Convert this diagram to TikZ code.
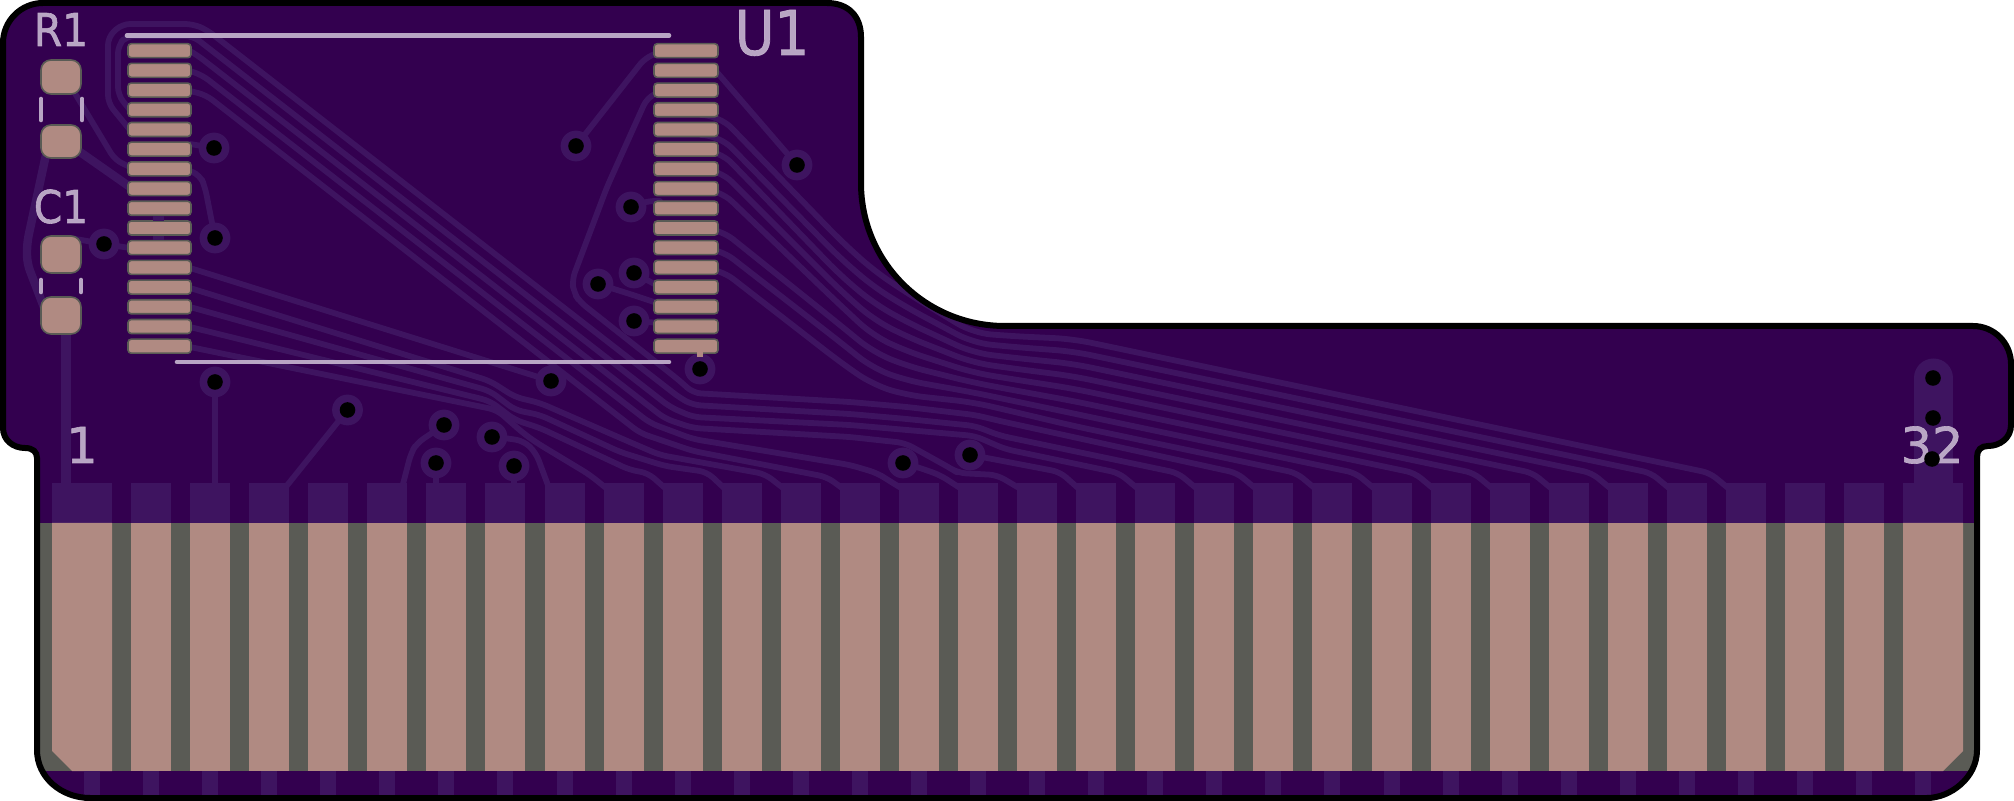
\documentclass[tikz,border=0pt]{standalone}
\usepackage{fontspec}
\setmainfont{DejaVu Sans}
\newfontfamily\silkfont[FakeBold=1.3]{DejaVu Sans}
\definecolor{mask}{HTML}{33004F}
\definecolor{tint}{HTML}{3E1460}
\definecolor{gold}{HTML}{B08A82}
\definecolor{sub}{HTML}{5A5B55}
\definecolor{silk}{HTML}{C3B2CD}
\tikzset{
  tr/.style={draw=tint,line width=2.9pt,line join=round,line cap=round,rounded corners=4pt},
  trthick/.style={tr,line width=4.2pt},
  smdpad/.style={draw=sub,line width=.8pt,fill=gold,rounded corners=1.6pt},
  sqpad/.style={draw=sub,line width=.8pt,fill=gold,rounded corners=5pt},
  silkline/.style={draw=silk,line width=2.3pt,line cap=round,opacity=.93},
  silktext/.style={text=silk,inner sep=0pt,anchor=base,opacity=.93,font=\silkfont},
  annulus/.style={fill=tint},
  hole/.style={fill=black}
}
\newcommand{\boardpath}{(43,3) -- (827,3) .. controls (848,3) and (861,16) .. (861,37)
  -- (861,183) .. controls (861,262.5) and (925.5,326) .. (1005,326)
  -- (1973,326) .. controls (1994,326) and (2011,343) .. (2011,364)
  -- (2011,425) .. controls (2011,438) and (2000,446) .. (1988,446)
  .. controls (1981,446) and (1977,450) .. (1977,457)
  -- (1977,750) .. controls (1977,778) and (1950,798) .. (1927,798)
  -- (90,798) .. controls (62,798) and (37,778) .. (37,750)
  -- (37,458) .. controls (37,452) and (33,448) .. (25,448)
  .. controls (13,448) and (3,440) .. (3,428)
  -- (3,43) .. controls (3,21) and (21,3) .. (43,3) -- cycle}
\begin{document}
\begin{tikzpicture}[x=.5pt,y=-.5pt]
\useasboundingbox (0,0) rectangle (2014,801);
\fill[mask] \boardpath;
\begin{scope}
\clip \boardpath;
% bundle from the upper left
\draw[tr] (653,95) -- (647,98) -- (607,187) -- (572,280) -- (574,293) -- (580,302) -- (680,381) -- (693,393) -- (850,402) -- (907,407) -- (975,415) -- (1000,421) -- (1237,473) -- (1255,488);
\draw[tr] (130,130) -- (108,103) -- (108,37) -- (122,24) -- (193,24) -- (207,30) -- (680,398) -- (693,405) -- (850,414) -- (907,419) -- (975,426) -- (1000,435.6) -- (1178,473) -- (1196,488);
\draw[tr] (130,110) -- (118,95) -- (118,45) -- (127,36) -- (193,36) -- (670,407) -- (693,417) -- (850,425) -- (907,430) -- (975,436) -- (1005,449) -- (1119,473) -- (1137,488);
\draw[tr] (190,51) -- (197,55) -- (665,418.6) -- (693,428) -- (850,437) -- (905,443) -- (950,468) -- (958,473) -- (997,475) -- (1019,488);
\draw[tr] (190,71) -- (202,75) -- (650,423) -- (693,439) -- (850,465) -- (877,473) -- (888,480) -- (901,488);
\draw[tr] (190,91) -- (206,95) -- (640,433) -- (693,451) -- (827,477) -- (842,488);
% bundle from the lower left
\draw[tr] (190,347) -- (497,410) -- (523,433) -- (537,443) -- (590,475) -- (606,488);
\draw[tr] (190,327) -- (490,401) -- (515,420) -- (540,428) -- (630,470) -- (648,473) -- (665,488);
\draw[tr] (190,307) -- (490,391) -- (515,410) -- (540,415) -- (620,452) -- (665,466) -- (707,472) -- (724,488);
\draw[tr] (190,288) -- (490,381) -- (515,397) -- (540,403) -- (625,440) -- (660,455) -- (765,474) -- (783,488);
\draw[tr] (190,268) -- (551,381);
% bundle from the right column
\foreach \j/\ry/\ya in {0/115/240,1/135/258,2/150/275,3/169/290,4/189/305,5/228/325,6/248/342,7/268/362}{
  \pgfmathsetmacro{\L}{72+59.07*(28-\j)}
  \draw[tr,rounded corners=9pt] (715,\ry) -- (719,\ry) -- (840,\ya) -- (873,{270+16.4*\j}) -- (907,{293+14.6*\j}) -- (973,{333+9.9*\j}) -- (1010,{336+10.7*\j}) -- (1073,{339+12.4*\j}) [rounded corners=4pt] -- ({\L-16},473) -- ({\L+2},488);
}
% via to finger traces
\draw[tr] (970,455) -- (987,458) -- (1060,472) -- (1078,488);
\draw[tr] (903,463) -- (917,467) -- (940,475) -- (960,488);
\draw[tr] (215,382) -- (215,488);
\draw[tr] (347.5,410) -- (285,488);
\draw[tr] (444,425) -- (432,433) -- (417,443) -- (411,453) -- (402,488);
\draw[tr] (436,463) -- (436,488);
\draw[tr] (514,466) -- (514,488);
\draw[tr] (492,437) -- (505,438) -- (524,441) -- (536,453) -- (549,488);
% U1 and passives
\draw[tr] (70,85) -- (115,160) -- (130,167);
\draw[trthick] (70,145) -- (130,187);
\draw[trthick] (47,150) -- (27,243) -- (27,263) -- (45,310);
\draw[trthick,line width=4.8pt] (66,325) -- (66,488);
\draw[tr] (70,238) -- (104,244) -- (130,248);
\draw[tr] (190,144) -- (214,148);
\draw[tr] (190,171) -- (200,175) -- (205,187) -- (215,238);
\draw[tr,line width=5pt,line cap=butt] (159,209) -- (159,248);
\draw[tr] (655,54) -- (645,58) -- (576,146);
\draw[tr] (715,70) -- (797,165);
\draw[tr] (631,207) -- (647,201) -- (660,201);
\draw[tr] (634,273) -- (660,287);
\draw[tr] (598,284) -- (633,295) -- (660,304);
\draw[tr] (634,321) -- (660,323);
\draw[tr] (700,350) -- (700,369);
\draw[tr,line width=19.5pt,rounded corners=0pt] (1933.5,378) -- (1933.5,490);
% vias
\foreach \vx/\vy in {214/148,215/238,104/244,215/382,347.5/410,444/425,492/437,436/463,514/466,551/381,576/146,797/165,631/207,634/273,598/284,634/321,700/369,903/463,970/455}{
  \fill[annulus] (\vx,\vy) circle[radius=7.7pt];
}
% gold fingers
\fill[sub] (0,523) rectangle (2014,771);
\fill[tint] (52,483) rectangle (112,523);
\fill[tint] (1903,483) rectangle (1963,523);
\fill[gold] (52,523) -- (112,523) -- (112,771) -- (72,771) -- (52,751) -- cycle;
\fill[gold] (1903,523) -- (1963,523) -- (1963,751) -- (1943,771) -- (1903,771) -- cycle;
\foreach \k in {1,...,30}{
  \pgfmathsetmacro{\C}{92+59.07*\k}
  \fill[tint] ({\C-20},483) rectangle ({\C+20},523);
  \fill[gold] ({\C-20},523) rectangle ({\C+20},771);
}
\foreach \k in {0,...,31}{
  \pgfmathsetmacro{\C}{92+59.07*\k}
  \fill[tint] ({\C-8},771) rectangle ({\C+8},795);
}
\end{scope}
% U1 pads
\foreach \r in {0,...,15}{
  \pgfmathsetmacro{\Y}{50.7+19.7*\r}
  \draw[smdpad] (128,{\Y-7}) rectangle (191,{\Y+7});
  \draw[smdpad] (654,{\Y-7}) rectangle (718,{\Y+7});
}
\fill[gold] (697,352) rectangle (703,357);
\fill[tint] (153,216) rectangle (164,221);
\fill[tint] (153,236) rectangle (164,240);
% passive pads
\draw[sqpad] (41,60) rectangle (81,94);
\draw[sqpad] (41,125) rectangle (81,158);
\draw[sqpad] (41,236) rectangle (81,273);
\draw[sqpad] (41,297) rectangle (81,334);
% silkscreen
\draw[silkline] (127,35.5) -- (669,35.5);
\draw[silkline] (177,362) -- (669,362);
\draw[silkline] (41,99) -- (41,120);
\draw[silkline] (82,99) -- (82,120);
\draw[silkline] (41,280) -- (41,292);
\draw[silkline] (81,280) -- (81,292);
\node[silktext,xscale=.9] (r1) at (61,46) {\fontsize{22.6pt}{24pt}\selectfont R1};
\node[silktext,xscale=.9] (c1) at (61,223) {\fontsize{22.6pt}{24pt}\selectfont C1};
\node[silktext,xscale=.88] (u1) at (772,55) {\fontsize{30.9pt}{32pt}\selectfont U1};
\node[silktext] (p1) at (82,463) {\fontsize{24.7pt}{26pt}\selectfont 1};
\node[silktext] (p32) at (1932,463) {\fontsize{24.7pt}{26pt}\selectfont 32};
% drill holes
\foreach \vx/\vy in {214/148,215/238,104/244,215/382,347.5/410,444/425,492/437,436/463,514/466,551/381,576/146,797/165,631/207,634/273,598/284,634/321,700/369,903/463,970/455,1933/378,1933/418,1932/459}{
  \fill[hole] (\vx,\vy) circle[radius=3.9pt];
}
% board edge
\draw[black,line width=3pt] \boardpath;
\end{tikzpicture}
\end{document}
